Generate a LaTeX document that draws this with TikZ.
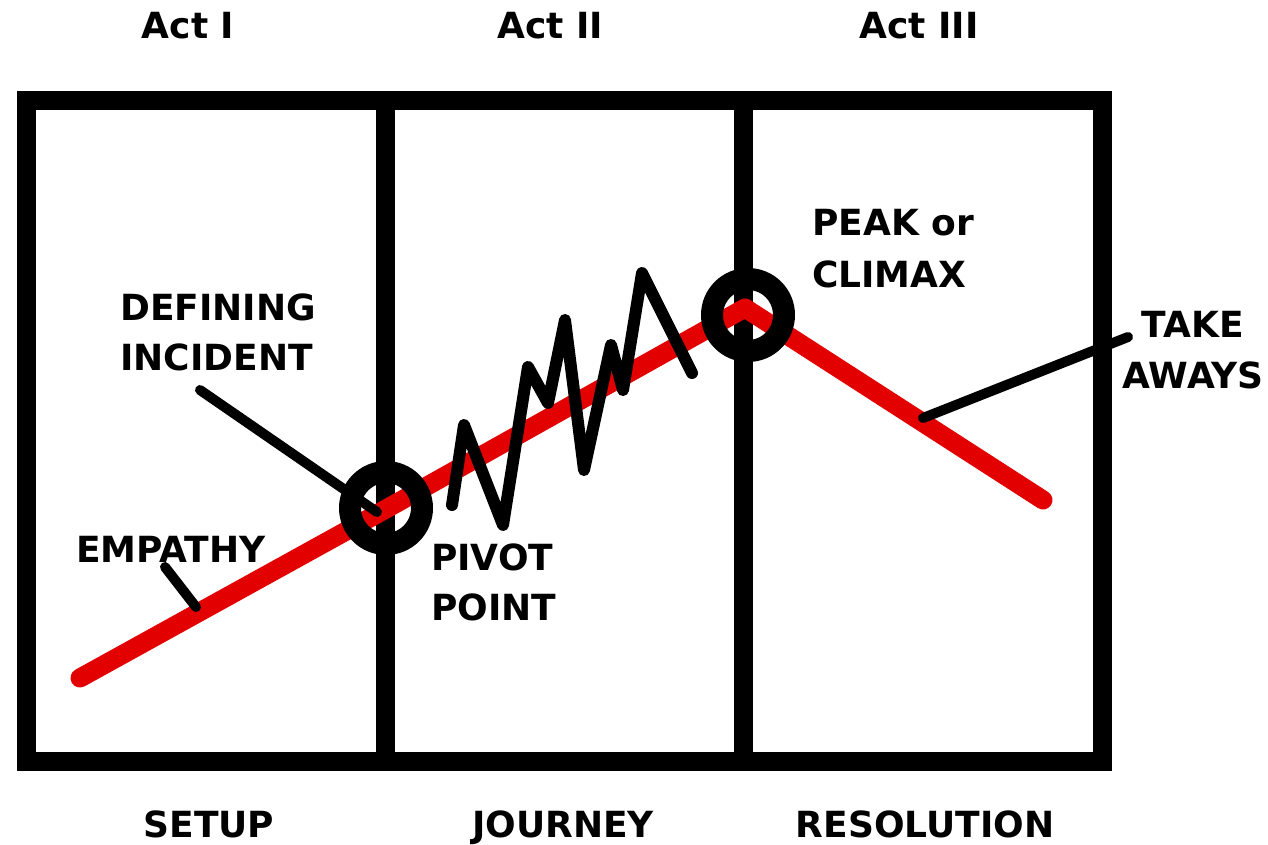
\documentclass[tikz,border=0pt]{standalone}
\usepackage{fontspec}
\setmainfont{DejaVu Sans}
\definecolor{arcred}{RGB}{226,0,0}
\tikzset{
  lbl/.style={inner sep=0pt,font=\fontsize{36}{42}\selectfont\bfseries},
  wall/.style={line width=19pt},
  arc/.style={arcred,line width=19pt},
  ring/.style={line width=22pt},
  pointer/.style={line width=10pt}
}
\begin{document}
\begin{tikzpicture}[x=1pt,y=-1pt,line cap=round,line join=round]
\useasboundingbox (0,0) rectangle (1268,844);
% frame and act dividers
\draw[wall,line cap=rect,line join=miter] (26,100) rectangle (1102,761);
\draw[wall,line cap=butt] (385,100) -- (385,761);
\draw[wall,line cap=butt] (743,100) -- (743,761);
% act titles
\node[lbl,anchor=base] (act1) at (188,38) {Act I};
\node[lbl,anchor=base] (act2) at (550,38) {Act II};
\node[lbl,anchor=base] (act3) at (919,38) {Act III};
% parts below
\node[lbl,anchor=base] (setup) at (209,837) {SETUP};
\node[lbl,anchor=base] (journey) at (563,837) {JOURNEY};
\node[lbl,anchor=base] (resol) at (925,837) {RESOLUTION};
% story arc
\coordinate (start) at (80,678);
\coordinate (pivot) at (386,509);
\coordinate (peak) at (745,308);
\coordinate (finish) at (1043,500);
\draw[arc] (start) -- (pivot) -- (peak) -- (finish);
% rising action zigzag
\draw[line width=12pt] (452,505) -- (464,425) -- (503,525) -- (528,367)
  -- (548,403) -- (565,320) -- (584,470) -- (611,345) -- (623,390)
  -- (642,273) -- (692,373);
% turning points
\draw[ring] (386,508) circle (36);
\draw[ring] (748,315) circle (36);
% labels with pointers
\node[lbl,anchor=base west] (def) at (120,320) {DEFINING};
\node[lbl,anchor=base west] (inc) at (120,370) {INCIDENT};
\coordinate (incA) at (200,390);
\coordinate (incB) at (377,512);
\draw[pointer] (incA) -- (incB);
\node[lbl,anchor=base west] (emp) at (76,562) {EMPATHY};
\coordinate (empA) at (165,567);
\coordinate (empB) at (196,607);
\draw[pointer] (empA) -- (empB);
\node[lbl,anchor=base west] (piv) at (431,570) {PIVOT};
\node[lbl,anchor=base west] (pnt) at (431,620) {POINT};
\node[lbl,anchor=base west] (pk) at (812,235) {PEAK or};
\node[lbl,anchor=base west] (clx) at (812,287) {CLIMAX};
\node[lbl,anchor=base] (take) at (1193,337) {TAKE};
\node[lbl,anchor=base] (away) at (1193,388) {AWAYS};
\coordinate (tkA) at (1128,337);
\coordinate (tkB) at (923,418);
\draw[pointer] (tkA) -- (tkB);
\end{tikzpicture}
\end{document}
